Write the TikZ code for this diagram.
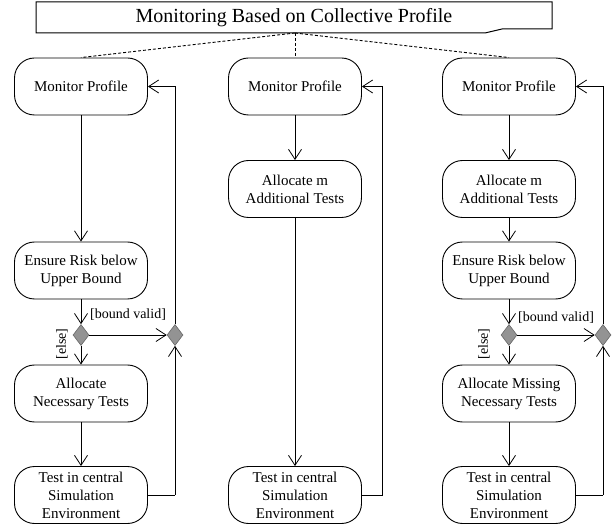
\documentclass[tikz,border=0pt]{standalone}
\usepackage{fontspec}
\setmainfont{Liberation Serif}
\usetikzlibrary{arrows.meta,shapes.geometric}
\tikzset{
  act/.style={draw, line width=0.9pt, rounded corners=20pt, minimum width=133pt, minimum height=57pt,
    align=center, font=\fontsize{15}{18}\selectfont, inner sep=0pt},
  dec/.style={diamond, draw=gray!80!black, fill=gray!85, line width=0.6pt, minimum width=16pt, minimum height=21pt, inner sep=0pt},
  flow/.style={line width=0.9pt, -{Straight Barb[length=10pt,width=13pt,line width=0.8pt]}},
  plain/.style={line width=0.9pt},
  guard/.style={font=\fontsize{14}{16}\selectfont, inner sep=0pt},
  conn/.style={line width=0.9pt, dashed, dash pattern=on 3pt off 2pt}
}
\begin{document}
\begin{tikzpicture}[x=1pt,y=-1pt]
\useasboundingbox (0,0) rectangle (616,529);
% title
\draw[line width=1pt, fill=white] (36,2) -- (552,2) -- (552,29) -- (502,29) -- (485,33) -- (36,33) -- cycle;
\node[font=\fontsize{20}{22}\selectfont, inner sep=0pt] (title) at (294,18) {Monitoring Based on Collective Profile};
\coordinate (tb) at (295,33);

% left column
\node[act] (m1) at (81,86.5) {Monitor Profile};
\node[act] (e1) at (81,270.5) {Ensure Risk below\\Upper Bound};
\node[dec] (d1) at (81,335) {};
\node[dec] (j1) at (175,335) {};
\node[act] (a1) at (81,393.5) {Allocate\\Necessary Tests};
\node[act] (t1) at (81,495) {Test in central\\Simulation\\Environment};
\coordinate (c1a) at (175,495);
\coordinate (c1b) at (175,86.5);

% middle column
\node[act] (m2) at (295,86.5) {Monitor Profile};
\node[act] (a2) at (295,189) {Allocate m\\Additional Tests};
\node[act] (t2) at (295,495) {Test in central\\Simulation\\Environment};
\coordinate (c2a) at (382,495);
\coordinate (c2b) at (382,86.5);

% right column
\node[act] (m3) at (509,86.5) {Monitor Profile};
\node[act] (a3) at (509,189) {Allocate m\\Additional Tests};
\node[act] (e3) at (509,270.5) {Ensure Risk below\\Upper Bound};
\node[dec] (d3) at (509,335) {};
\node[dec] (j3) at (603,335) {};
\node[act] (n3) at (509,393.5) {Allocate Missing\\Necessary Tests};
\node[act] (t3) at (509,495) {Test in central\\Simulation\\Environment};
\coordinate (c3a) at (603,495);
\coordinate (c3b) at (603,86.5);

% dashed links to title
\draw[conn] (tb) -- (m1.north);
\draw[conn] (tb) -- (m2.north);
\draw[conn] (tb) -- (m3.north);

% left flows
\draw[flow] (m1) -- (e1);
\draw[flow] (e1) -- (d1);
\draw[flow] (d1) -- (a1);
\draw[flow] (d1) -- (j1);
\draw[flow] (a1) -- (t1);
\draw[plain] (t1.east) -- (c1a);
\draw[flow] (c1a) -- (j1.south);
\draw[plain] (j1.north) -- (c1b);
\draw[flow] (c1b) -- (m1.east);
\node[guard] (g1) at (128,315) {[bound valid]};
\node[guard, rotate=90] (g2) at (62,344) {[else]};

% middle flows
\draw[flow] (m2) -- (a2);
\draw[flow] (a2) -- (t2);
\draw[plain] (t2.east) -- (c2a) -- (c2b);
\draw[flow] (c2b) -- (m2.east);

% right flows
\draw[flow] (m3) -- (a3);
\draw[flow] (a3) -- (e3);
\draw[flow] (e3) -- (d3);
\draw[flow] (d3) -- (n3);
\draw[flow] (d3) -- (j3);
\draw[flow] (n3) -- (t3);
\draw[plain] (t3.east) -- (c3a);
\draw[flow] (c3a) -- (j3.south);
\draw[plain] (j3.north) -- (c3b);
\draw[flow] (c3b) -- (m3.east);
\node[guard] (g3) at (556,318) {[bound valid]};
\node[guard, rotate=90] (g4) at (484,344) {[else]};
\end{tikzpicture}
\end{document}
